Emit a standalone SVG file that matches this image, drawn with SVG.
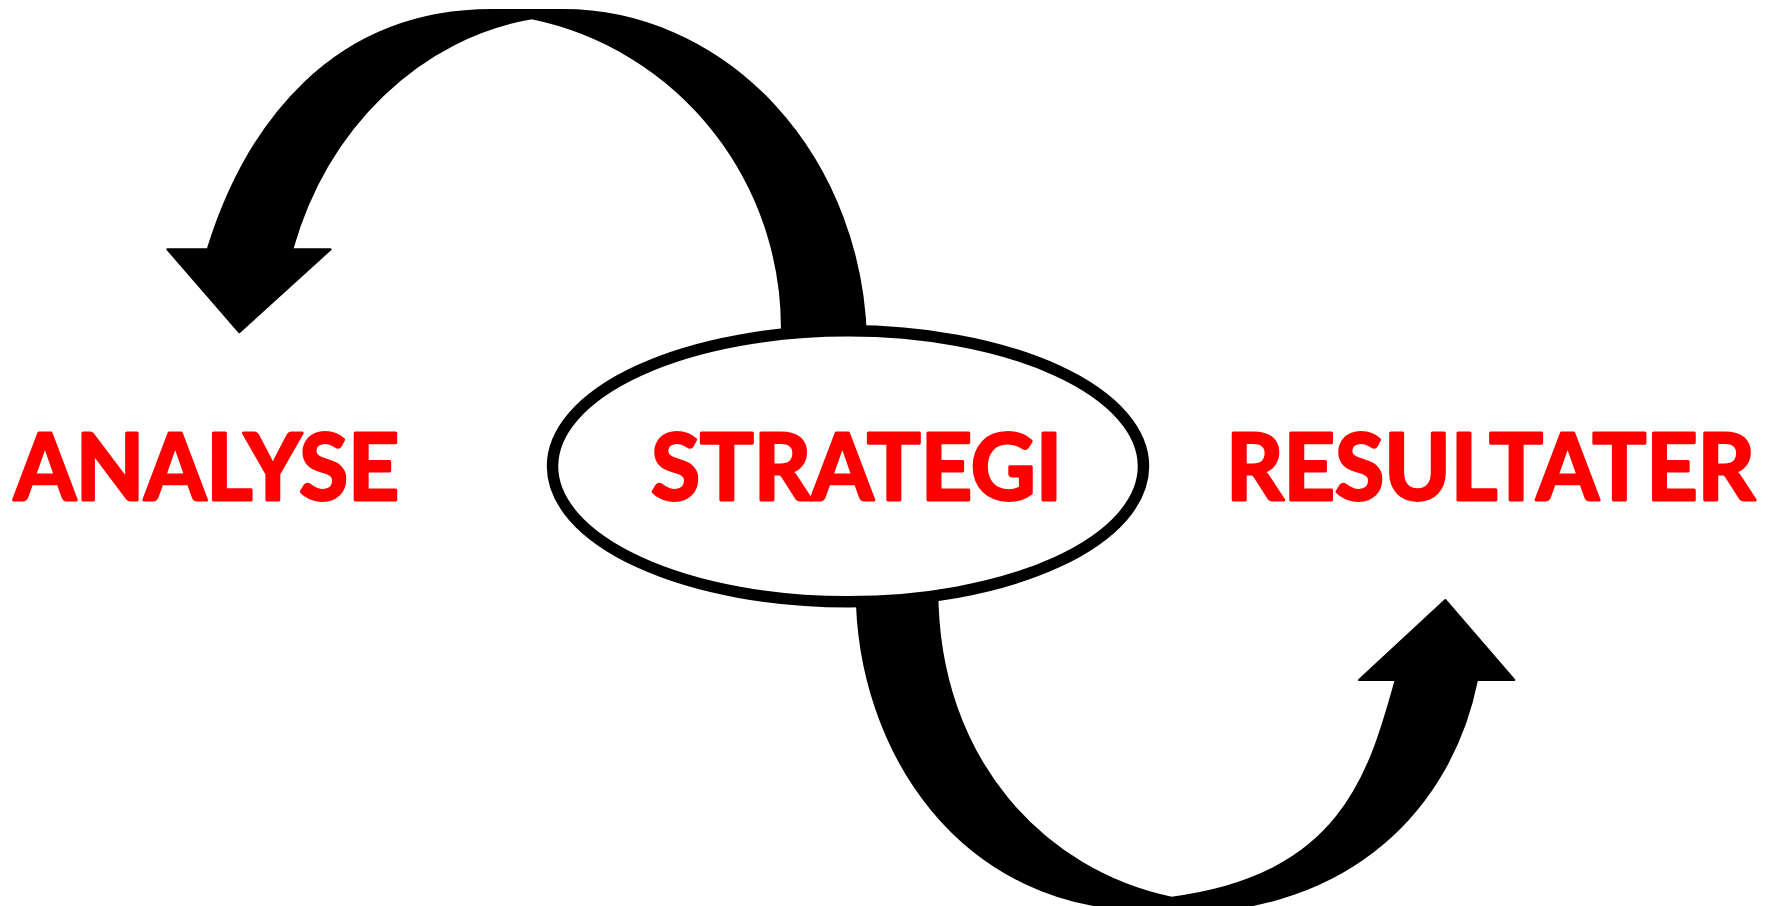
<svg xmlns="http://www.w3.org/2000/svg" width="1775" height="906" viewBox="0 0 1775 906">
  <style>
    .arrow { fill: #000; stroke: #000; stroke-width: 2; stroke-linejoin: round; }
    .label { font-family: Lato, "Open Sans", "Liberation Sans", sans-serif; font-weight: 700; font-size: 91px; fill: #FF0000; stroke: #FF0000; stroke-width: 3; stroke-linejoin: round; }
    .oval { fill: #fff; stroke: #000; stroke-width: 11.5; }
  </style>
  <rect width="1775" height="906" fill="#fff"/>
  <g id="connectors">
    <path id="arrow-top" class="arrow" d="M 866,340 A 303 338 0 0 0 563,10 L 492,10 C 332,10 246.3,125.2 207.7,249.3 L 167.3,249.3 L 239.3,332.3 L 330.7,249.3 L 292.3,249.3 A 299 338 0 0 1 531.7,18.3 A 312 316 0 0 1 781.7,340 Z"/>
    <path id="arrow-bottom" class="arrow" d="M 856.7,590 C 856.7,750 960,910 1150,910 L 1180,912 C 1350,912 1451.5,807.5 1477,680 L 1514.3,680 L 1445.3,600 L 1359,680 L 1395.7,680 C 1369.1,776.4 1340,875.6 1171.7,897.7 C 1044.4,871.2 937.3,760 937.3,590 Z"/>
  </g>
  <g id="node-strategi">
    <ellipse class="oval" cx="848" cy="466.3" rx="295.5" ry="135.5"/>
    <text class="label" transform="translate(651,500) scale(0.9,1)" x="0" y="0" textLength="457" lengthAdjust="spacingAndGlyphs">STRATEGI</text>
  </g>
  <g id="node-analyse">
    <text class="label" transform="translate(14,500) scale(0.9,1)" x="0" y="0" textLength="428" lengthAdjust="spacingAndGlyphs">ANALYSE</text>
  </g>
  <g id="node-resultater">
    <text class="label" transform="translate(1226,500) scale(0.9,1)" x="0" y="0" textLength="588" lengthAdjust="spacingAndGlyphs">RESULTATER</text>
  </g>
</svg>
